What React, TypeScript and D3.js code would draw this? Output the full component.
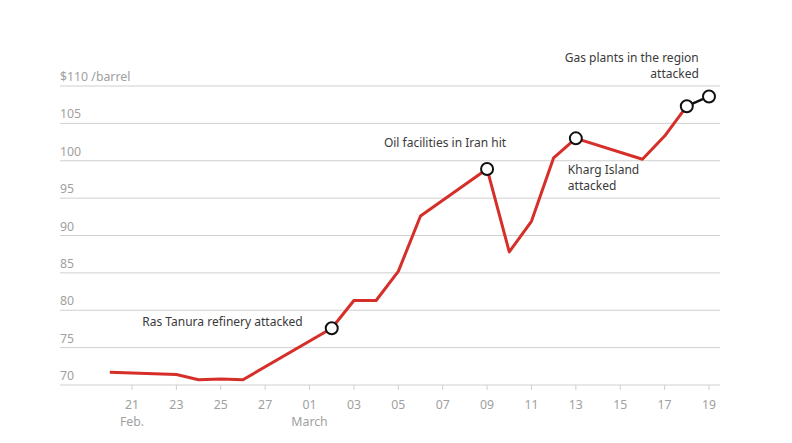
import React from "react";
import * as d3 from "d3";

const dates = [
  "2026-02-20", "2026-02-23", "2026-02-24", "2026-02-25", "2026-02-26",
  "2026-03-02", "2026-03-03", "2026-03-04", "2026-03-05", "2026-03-06",
  "2026-03-09", "2026-03-10", "2026-03-11", "2026-03-12", "2026-03-13",
  "2026-03-16", "2026-03-17", "2026-03-18", "2026-03-19",
];
const prices = [
  71.7, 71.4, 70.7, 70.8, 70.7,
  77.6, 81.3, 81.3, 85.2, 92.6,
  98.9, 87.8, 91.9, 100.4, 103.0,
  100.2, 103.3, 107.3, 108.6,
];
const markerDates = ["2026-03-02", "2026-03-09", "2026-03-13", "2026-03-18", "2026-03-19"];
const yTicks = [70, 75, 80, 85, 90, 95, 100, 105, 110];
const xTickDates = [
  "2026-02-21", "2026-02-23", "2026-02-25", "2026-02-27", "2026-03-01",
  "2026-03-03", "2026-03-05", "2026-03-07", "2026-03-09", "2026-03-11",
  "2026-03-13", "2026-03-15", "2026-03-17", "2026-03-19",
];
const monthLabels = [
  { date: "2026-02-21", text: "Feb." },
  { date: "2026-03-01", text: "March" },
];
const annotations = [
  { date: "2026-03-02", value: 77.6, lines: ["Ras Tanura refinery attacked"], anchor: "end", dx: -29, dy: -2 },
  { date: "2026-03-09", value: 98.9, lines: ["Oil facilities in Iran hit"], anchor: "end", dx: 19, dy: -22 },
  { date: "2026-03-13", value: 103.0, lines: ["Kharg Island", "attacked"], anchor: "start", dx: -8, dy: 36 },
  { date: "2026-03-18", value: 107.3, lines: ["Gas plants in the region", "attacked"], anchor: "end", dx: 12, dy: -44 },
];

const parse = d3.utcParse("%Y-%m-%d");
const W = 792;
const H = 443;
const FONT = "'Noto Sans', sans-serif";

export default function App() {
  const x = d3
    .scaleUtc()
    .domain([parse("2026-02-21")!, parse("2026-03-19")!])
    .range([132, 709]);
  const y = d3.scaleLinear().domain([70, 110]).range([385, 86]);

  const data = dates.map((d, i) => ({ date: parse(d)!, value: prices[i] }));
  const line = d3
    .line<{ date: Date; value: number }>()
    .x((d) => x(d.date))
    .y((d) => y(d.value));
  const redData = data.slice(0, data.length - 1);
  const blackData = data.slice(data.length - 2);
  const markers = markerDates.map((md) => data.find((d) => +d.date === +parse(md)!)!);

  const x0 = 60;
  const x1 = 720;

  return (
    <svg
      width={W}
      height={H}
      style={{ position: "absolute", left: 0, top: 0, background: "#fff" }}
      fontFamily={FONT}
    >
      {yTicks.map((t) => (
        <g key={t}>
          <line x1={x0} x2={x1} y1={y(t)} y2={y(t)} stroke="#cfcfcf" strokeWidth={1} />
          <text x={x0} y={y(t) - 5} fontSize={12.3} fill="#a0a0a0">
            {t === 110 ? "$110 /barrel" : t}
          </text>
        </g>
      ))}
      {xTickDates.map((d) => {
        const xx = x(parse(d)!);
        const day = d.slice(8);
        return (
          <g key={d}>
            <line x1={xx} x2={xx} y1={y(70)} y2={y(70) + 5} stroke="#cfcfcf" />
            <text x={xx} y={y(70) + 24} fontSize={12.3} fill="#a0a0a0" textAnchor="middle">
              {day}
            </text>
          </g>
        );
      })}
      {monthLabels.map((m) => (
        <text
          key={m.text}
          x={x(parse(m.date)!)}
          y={y(70) + 41}
          fontSize={12.3}
          fill="#a0a0a0"
          textAnchor="middle"
        >
          {m.text}
        </text>
      ))}
      <path d={line(redData) || ""} fill="none" stroke="#d62f2a" strokeWidth={3} strokeLinejoin="round" />
      <path d={line(blackData) || ""} fill="none" stroke="#111" strokeWidth={2.5} />
      {markers.map((m) => (
        <circle key={+m.date} cx={x(m.date)} cy={y(m.value)} r={6} fill="#fff" stroke="#111" strokeWidth={2} />
      ))}
      {annotations.map((a) => {
        const ax = x(parse(a.date)!) + a.dx;
        const ay = y(a.value) + a.dy;
        return (
          <text key={a.lines[0]} x={ax} y={ay} fontSize={12} fill="#3a3a3a" textAnchor={a.anchor}>
            {a.lines.map((l, i) => (
              <tspan key={i} x={ax} dy={i === 0 ? 0 : 16}>
                {l}
              </tspan>
            ))}
          </text>
        );
      })}
    </svg>
  );
}
